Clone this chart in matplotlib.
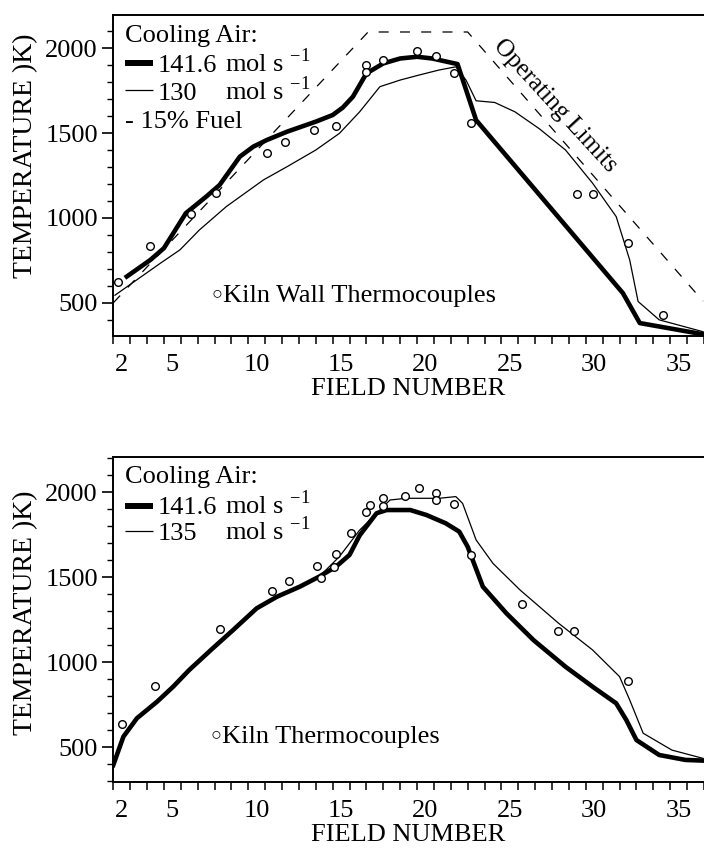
import matplotlib.pyplot as plt
from matplotlib.ticker import MultipleLocator

plt.rcParams['font.family'] = ['Liberation Serif', 'DejaVu Serif']
plt.rcParams['mathtext.fontset'] = 'custom'
plt.rcParams['mathtext.rm'] = 'Liberation Serif'

# --- upper panel: 141.6 vs 130 mol/s cooling air (15% less fuel) ---
top_field_hi = [2.3, 3.7, 4.5, 5.8, 7.0, 7.8, 9.0, 9.8, 10.6, 11.8, 13.5, 14.5, 15.1,
                15.7, 16.5, 17.5, 18.5, 19.5, 20.4, 21.9, 23.0, 31.7, 32.7, 36.45]
top_temp_hi = [655, 753, 822, 1028, 1125, 1194, 1361, 1420, 1459, 1508, 1567, 1606, 1650,
               1714, 1851, 1910, 1939, 1949, 1939, 1906, 1576, 557, 381, 315]

top_field_lo = [1.6, 4.3, 5.45, 6.6, 8.2, 10.4, 11.8, 13.5, 14.9, 16.1, 17.3, 18.5, 19.6,
                20.8, 21.8, 22.4, 23.0, 24.1, 25.3, 26.75, 28.3, 29.9, 31.3, 32.1, 32.6,
                33.85, 36.45]
top_temp_lo = [545, 734, 812, 929, 1067, 1224, 1302, 1400, 1498, 1625, 1773, 1812, 1841,
               1871, 1890, 1812, 1690, 1680, 1625, 1525, 1400, 1205, 1008, 753, 508,
               400, 330]

limit_field = [1.5, 16.6, 22.5, 36.45]
limit_temp = [500, 2095, 2095, 510]

top_tc_field = [1.8, 3.7, 6.1, 7.6, 10.6, 11.7, 13.4, 14.7, 16.5, 16.5, 17.5, 19.5,
                20.6, 21.7, 22.7, 29.0, 29.9, 32.0, 34.1]
top_tc_temp = [625, 835, 1024, 1149, 1380, 1449, 1518, 1541, 1900, 1861, 1929, 1984,
               1953, 1855, 1561, 1141, 1141, 851, 429]

# --- lower panel: 141.6 vs 135 mol/s cooling air ---
bot_field_hi = [1.5, 2.1, 2.9, 4.1, 5.05, 6.0, 7.4, 8.6, 10.0, 11.2, 12.55, 13.7, 14.7,
                15.5, 16.1, 17.1, 17.7, 19.1, 20.05, 21.2, 22.0, 22.5, 23.4, 24.8, 26.4,
                28.3, 29.9, 31.3, 31.9, 32.5, 33.85, 35.4, 36.45]
bot_temp_hi = [394, 561, 669, 767, 855, 953, 1081, 1188, 1316, 1384, 1443, 1502, 1561,
               1630, 1745, 1875, 1894, 1894, 1865, 1816, 1767, 1678, 1443, 1286, 1129,
               972, 855, 757, 659, 541, 453, 424, 420]

bot_field_lo = [1.5, 2.1, 2.9, 4.1, 5.05, 6.0, 7.4, 8.6, 10.0, 11.2, 12.55, 13.7, 14.9,
                16.1, 17.3, 17.9, 18.85, 20.8, 21.8, 22.2, 23.0, 24.0, 25.6, 27.9, 29.9,
                31.5, 32.1, 32.9, 34.6, 36.45]
bot_temp_lo = [394, 561, 669, 767, 855, 953, 1081, 1188, 1316, 1384, 1443, 1502, 1620,
               1776, 1894, 1953, 1963, 1963, 1973, 1933, 1718, 1580, 1424, 1227, 1071,
               914, 777, 581, 482, 433]

bot_tc_field = [2.0, 4.0, 7.8, 10.9, 11.9, 13.6, 13.8, 14.6, 14.7, 15.6, 16.5, 16.7,
                17.5, 17.5, 18.8, 19.6, 20.6, 20.6, 21.7, 22.7, 25.7, 27.85, 28.8, 32.0]
bot_tc_temp = [635, 859, 1192, 1419, 1476, 1565, 1496, 1561, 1635, 1757, 1884, 1924,
               1918, 1963, 1976, 2022, 1992, 1953, 1928, 1629, 1341, 1184, 1184, 888]

field_labels = [2, 5, 10, 15, 20, 25, 30, 35]
field_edges = [k + 0.5 for k in range(1, 37)]
temp_ticks = [500, 1000, 1500, 2000]

FS = 19
THICK = 3.3
THIN = 0.9


def style_axes(ax, ylim, ylabel_y):
    ax.set_xlim(1.5, 36.45)
    ax.set_ylim(*ylim)
    for side in ('left', 'bottom', 'top'):
        ax.spines[side].set_linewidth(1.4)
    ax.spines['right'].set_visible(False)
    # ticks mark the boundaries between fields, labels sit in the middle of a field
    ax.set_xticks(field_edges)
    ax.set_xticklabels([])
    ax.set_xticks(field_labels, minor=True)
    ax.set_xticklabels([str(v) for v in field_labels], minor=True, fontsize=FS)
    ax.tick_params(axis='x', which='major', direction='out', length=6, width=1.1)
    ax.tick_params(axis='x', which='minor', length=0, pad=13)
    ax.set_yticks(temp_ticks)
    ax.set_yticklabels([str(v) for v in temp_ticks], fontsize=FS)
    ax.yaxis.set_minor_locator(MultipleLocator(100))
    ax.tick_params(axis='y', which='major', direction='out', length=8, width=1.2, pad=3)
    ax.tick_params(axis='y', which='minor', direction='out', length=4.5, width=1.0)
    ax.set_xlabel('FIELD NUMBER', fontsize=FS)
    ax.xaxis.set_label_coords(0.5, -0.13)
    ax.set_ylabel('TEMPERATURE )K)', fontsize=20)
    ax.yaxis.set_label_coords(-0.127, ylabel_y)


def key_line(ax, y, lw):
    ax.plot([0.020, 0.067], [y, y], transform=ax.transAxes, color='black',
            lw=lw, solid_capstyle='butt')


def tc_key(ax, x, y, label):
    # open circle symbol followed by the label
    ax.text(x, y, '\u25cb', transform=ax.transAxes, fontsize=13,
            ha='center', va='center')
    ax.text(x + 0.011, y, label, transform=ax.transAxes, fontsize=FS,
            va='center_baseline')


fig = plt.figure(figsize=(7.04, 8.48), dpi=100)
ax1 = fig.add_axes([0.1609, 0.6038, 0.839, 0.3785])
ax2 = fig.add_axes([0.1609, 0.0778, 0.839, 0.3833])

# upper panel
ax1.plot(limit_field, limit_temp, color='black', lw=THIN, dashes=(8, 9))
ax1.plot(top_field_lo, top_temp_lo, color='black', lw=THIN)
ax1.plot(top_field_hi, top_temp_hi, color='black', lw=THICK, solid_joinstyle='round')
ax1.plot(top_tc_field, top_tc_temp, linestyle='none', marker='o', ms=5.5,
         mfc='white', mec='black', mew=1.0, zorder=5)
style_axes(ax1, (305, 2195), 0.56)

ax1.text(0.020, 0.917, 'Cooling Air:', transform=ax1.transAxes, fontsize=FS, va='baseline')
key_line(ax1, 0.850, THICK + 1)
ax1.text(0.076, 0.823, '141.6', transform=ax1.transAxes, fontsize=FS, va='baseline')
ax1.text(0.190, 0.823, r'mol s $^{-1}$', transform=ax1.transAxes, fontsize=FS, va='baseline')
key_line(ax1, 0.766, THIN)
ax1.text(0.076, 0.735, '130', transform=ax1.transAxes, fontsize=FS, va='baseline')
ax1.text(0.190, 0.735, r'mol s $^{-1}$', transform=ax1.transAxes, fontsize=FS, va='baseline')
ax1.text(0.020, 0.647, '- 15% Fuel', transform=ax1.transAxes, fontsize=FS, va='baseline')
tc_key(ax1, 0.175, 0.133, 'Kiln Wall Thermocouples')
ax1.text(0.748, 0.717, 'Operating Limits', transform=ax1.transAxes, fontsize=18,
         rotation=-47.5, rotation_mode='anchor', ha='center', va='center')

# lower panel
ax2.plot(bot_field_lo, bot_temp_lo, color='black', lw=THIN)
ax2.plot(bot_field_hi, bot_temp_hi, color='black', lw=THICK, solid_joinstyle='round')
ax2.plot(bot_tc_field, bot_tc_temp, linestyle='none', marker='o', ms=5.5,
         mfc='white', mec='black', mew=1.0, zorder=5)
style_axes(ax2, (294, 2206), 0.52)

ax2.text(0.020, 0.919, 'Cooling Air:', transform=ax2.transAxes, fontsize=FS, va='baseline')
key_line(ax2, 0.849, THICK + 1)
ax2.text(0.076, 0.826, '141.6', transform=ax2.transAxes, fontsize=FS, va='baseline')
ax2.text(0.190, 0.826, r'mol s $^{-1}$', transform=ax2.transAxes, fontsize=FS, va='baseline')
key_line(ax2, 0.772, THIN)
ax2.text(0.076, 0.745, '135', transform=ax2.transAxes, fontsize=FS, va='baseline')
ax2.text(0.190, 0.745, r'mol s $^{-1}$', transform=ax2.transAxes, fontsize=FS, va='baseline')
tc_key(ax2, 0.173, 0.145, 'Kiln Thermocouples')

fig.savefig('out.png', dpi=100)
